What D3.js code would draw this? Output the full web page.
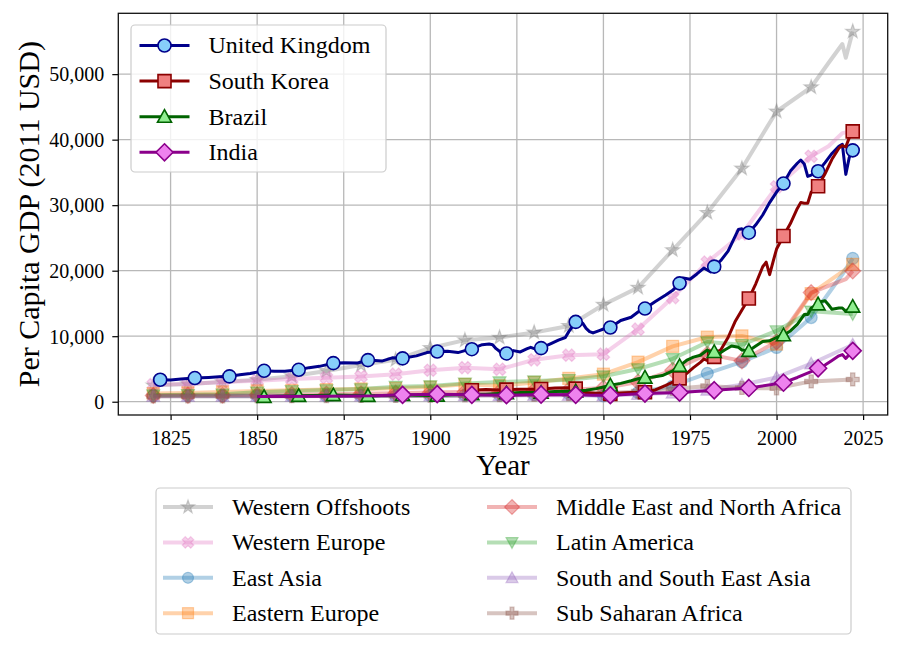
<!DOCTYPE html>
<html>
<head>
<meta charset="utf-8">
<script src="https://cdn.jsdelivr.net/npm/d3@7"></script>
<style>
  body { margin: 0; background: #fff; }
  text { font-family: "Liberation Serif", "Times New Roman", serif; fill: #000; }
</style>
</head>
<body>
<div id="chart"></div>
<script>
// ---- data (year, per capita GDP in 2011 USD) ----
const ukGdp = [[1820,3250],[1822,3350],[1825,3300],[1828,3450],[1832,3610],[1836,3700],[1839,3800],[1842,3870],[1845,4100],[1848,4300],[1852,4720],[1855,4650],[1858,4650],[1862,4870],[1865,5200],[1868,5400],[1872,5890],[1875,5950],[1879,5900],[1882,6350],[1886,6200],[1889,6700],[1892,6620],[1896,7000],[1899,7500],[1902,7670],[1905,7700],[1908,7500],[1910,7800],[1912,8020],[1913,8300],[1915,8700],[1917,8800],[1918,8700],[1919,8100],[1920,7700],[1921,7100],[1922,7370],[1924,7800],[1926,7600],[1928,8100],[1929,8300],[1931,7900],[1932,8180],[1935,8900],[1937,9400],[1939,9800],[1940,10700],[1942,12180],[1943,12400],[1944,12000],[1945,11200],[1946,10700],[1947,10500],[1949,10900],[1950,11100],[1952,11330],[1955,12400],[1958,12900],[1960,13700],[1962,14220],[1965,15300],[1968,16300],[1970,17000],[1972,18070],[1973,18900],[1975,18700],[1977,19500],[1979,20400],[1980,20100],[1981,19800],[1982,20620],[1984,21600],[1986,23000],[1988,25200],[1989,26300],[1990,26400],[1991,25900],[1992,25800],[1994,27000],[1996,28500],[1998,30400],[2000,32000],[2002,33300],[2004,35200],[2006,36400],[2007,36900],[2008,36300],[2009,34400],[2010,34600],[2012,35180],[2014,36500],[2016,37900],[2018,39000],[2019,39300],[2020,34700],[2021,37300],[2022,38370]];
const koreaGdp = [[1911,1600],[1912,1750],[1916,1850],[1920,1800],[1922,1850],[1926,1900],[1930,1900],[1932,1950],[1936,2100],[1940,2150],[1942,2000],[1945,1400],[1950,1200],[1952,1200],[1955,1350],[1958,1400],[1962,1450],[1965,1800],[1968,2500],[1970,3000],[1972,3560],[1974,4300],[1976,5200],[1978,6000],[1979,6500],[1980,6300],[1982,6850],[1984,8000],[1986,9800],[1988,12200],[1990,14000],[1992,15750],[1994,18000],[1996,20600],[1997,21300],[1998,19400],[1999,21400],[2000,23300],[2002,25300],[2004,27200],[2006,29500],[2007,30400],[2008,30300],[2009,30300],[2010,32000],[2012,32900],[2014,34800],[2016,37000],[2018,38700],[2019,39100],[2020,38900],[2021,40300],[2022,41270]];
const brazilGdp = [[1850,760],[1852,760],[1856,820],[1860,880],[1862,910],[1866,950],[1870,1000],[1872,1020],[1876,1000],[1880,950],[1882,910],[1886,950],[1890,1000],[1892,1050],[1896,1000],[1900,950],[1902,950],[1906,1050],[1910,1100],[1912,1150],[1916,1150],[1920,1250],[1922,1300],[1926,1400],[1930,1400],[1932,1400],[1936,1550],[1940,1600],[1942,1600],[1945,1750],[1948,2000],[1950,2250],[1952,2500],[1955,2800],[1958,3200],[1960,3500],[1962,3700],[1964,3750],[1967,4000],[1970,4700],[1972,5480],[1974,6300],[1976,6800],[1978,7100],[1980,7900],[1981,7500],[1982,7610],[1983,7200],[1985,7900],[1987,8500],[1989,8300],[1990,7900],[1992,7770],[1994,8500],[1996,9200],[1998,9300],[2000,9800],[2002,10160],[2004,10800],[2006,11800],[2008,13300],[2009,13300],[2010,14300],[2012,14880],[2013,15300],[2014,15400],[2015,14800],[2016,14100],[2018,14300],[2019,14300],[2020,13800],[2022,14530]];
const indiaGdp = [[1850,800],[1870,820],[1884,900],[1892,1050],[1902,1150],[1912,1050],[1922,1000],[1932,1100],[1942,1050],[1947,1000],[1952,1000],[1962,1250],[1972,1400],[1982,1750],[1992,2100],[2002,2900],[2006,3700],[2010,4600],[2012,5100],[2014,5600],[2016,6300],[2018,7000],[2019,7200],[2020,6600],[2021,7200],[2022,7770]];

const westernOffshoots = [[1820,2500],[1830,2700],[1840,3000],[1850,3350],[1860,3900],[1870,4700],[1880,5600],[1890,6400],[1900,8200],[1910,9400],[1920,9800],[1930,10570],[1940,11570],[1950,14800],[1960,17420],[1970,23150],[1980,28840],[1990,35600],[2000,44300],[2010,48000],[2015,51700],[2019,54600],[2020,52500],[2022,56500]];
const westernEurope = [[1820,2600],[1830,2700],[1840,3000],[1850,3200],[1860,3450],[1870,3650],[1880,3850],[1890,4200],[1900,4800],[1910,5200],[1920,4950],[1930,6400],[1940,7100],[1950,7250],[1960,11070],[1970,15900],[1980,21300],[1990,25600],[2000,32800],[2010,37460],[2015,39000],[2019,41000],[2022,41300]];
const eastAsia = [[1820,900],[1830,900],[1840,880],[1850,880],[1860,870],[1870,870],[1880,880],[1890,900],[1900,950],[1910,1000],[1920,1050],[1930,1100],[1940,1250],[1950,900],[1960,1400],[1970,2400],[1980,4330],[1990,6090],[2000,8280],[2010,12850],[2019,19450],[2022,21880]];
const easternEurope = [[1820,1250],[1830,1350],[1840,1500],[1850,1650],[1860,1750],[1870,1850],[1880,1950],[1890,2050],[1900,2250],[1910,2650],[1920,2450],[1930,2950],[1940,3550],[1950,4200],[1960,6050],[1970,8440],[1980,9880],[1990,10050],[2000,8790],[2010,16500],[2022,20970]];
const middleEast = [[1820,950],[1830,980],[1840,1000],[1850,1050],[1860,1100],[1870,1150],[1880,1200],[1890,1300],[1900,1400],[1910,1500],[1920,1500],[1930,1700],[1940,1800],[1950,2100],[1960,3000],[1970,4800],[1980,7260],[1990,6240],[2000,9140],[2010,16660],[2020,18700],[2022,19950]];
const latinAmerica = [[1820,1000],[1830,1050],[1840,1150],[1850,1450],[1860,1650],[1870,1800],[1880,1950],[1890,2300],[1900,2400],[1910,2800],[1920,3000],[1930,3150],[1940,3350],[1950,3900],[1960,5000],[1970,6550],[1980,9100],[1990,8700],[2000,10800],[2010,13800],[2022,13400]];
const southAsia = [[1820,850],[1830,850],[1840,850],[1850,850],[1860,860],[1870,870],[1880,880],[1890,890],[1900,900],[1910,950],[1920,950],[1930,1000],[1940,1000],[1950,900],[1960,1150],[1970,1350],[1980,1800],[1990,2600],[2000,3700],[2010,5800],[2022,8700]];
const subSaharan = [[1820,820],[1830,820],[1840,830],[1850,840],[1860,850],[1870,860],[1880,870],[1890,880],[1900,900],[1910,950],[1920,1000],[1930,1050],[1940,1150],[1950,1300],[1960,1550],[1970,1950],[1980,2400],[1990,2100],[2000,2050],[2010,3100],[2022,3400]];

const countryNames = ["United Kingdom", "South Korea", "Brazil", "India"];
const regionNames = ["Western Offshoots", "Western Europe", "East Asia", "Eastern Europe",
  "Middle East and North Africa", "Latin America", "South and South East Asia", "Sub Saharan Africa"];
const xTicks = [1825, 1850, 1875, 1900, 1925, 1950, 1975, 2000, 2025];
const yTicks = [0, 10000, 20000, 30000, 40000, 50000];

// ---- styles ----
const countries = [
  { name: countryNames[0], data: ukGdp,    line: "#00008b", face: "#87cefa", shape: "circle",   size: 13 },
  { name: countryNames[1], data: koreaGdp, line: "#8b0000", face: "#f08080", shape: "square",   size: 13 },
  { name: countryNames[2], data: brazilGdp, line: "#006400", face: "#90ee90", shape: "triUp",   size: 14 },
  { name: countryNames[3], data: indiaGdp, line: "#8b008b", face: "#ee82ee", shape: "diamond",  size: 17 }
];
const regions = [
  { name: regionNames[0], data: westernOffshoots, color: "#7f7f7f", shape: "star",    size: 15 },
  { name: regionNames[1], data: westernEurope,    color: "#e377c2", shape: "xfilled", size: 13 },
  { name: regionNames[2], data: eastAsia,         color: "#1f77b4", shape: "circle",  size: 12 },
  { name: regionNames[3], data: easternEurope,    color: "#ff7f0e", shape: "square",  size: 12 },
  { name: regionNames[4], data: middleEast,       color: "#d62728", shape: "diamond", size: 16 },
  { name: regionNames[5], data: latinAmerica,     color: "#2ca02c", shape: "triDown", size: 13 },
  { name: regionNames[6], data: southAsia,        color: "#9467bd", shape: "triUp",   size: 13 },
  { name: regionNames[7], data: subSaharan,       color: "#8c564b", shape: "plus",    size: 13 }
];
const regionAlpha = 0.35;

const width = 902, height = 649;
const plot = { left: 118.3, right: 887.7, top: 13.3, bottom: 415 };

const svg = d3.select("#chart").append("svg")
  .attr("width", width)
  .attr("height", height);

// scales with matplotlib-like 5% margins
const allPts = countries.concat(regions).flatMap(s => s.data);
const xExt = d3.extent(allPts, d => d[0]);
const yExt = d3.extent(allPts, d => d[1]);
const xPad = (xExt[1] - xExt[0]) * 0.05, yPad = (yExt[1] - yExt[0]) * 0.05;

const x = d3.scaleLinear()
  .domain([xExt[0] - xPad, xExt[1] + xPad])
  .range([plot.left, plot.right]);
const y = d3.scaleLinear()
  .domain([yExt[0] - yPad, yExt[1] + yPad])
  .range([plot.bottom, plot.top]);

// marker shapes
function markerPath(shape, size) {
  const r = size / 2;
  const poly = pts => "M" + pts.map(p => p[0].toFixed(2) + "," + p[1].toFixed(2)).join("L") + "Z";
  const plusPts = (w, rot) => {
    const p = [[-w,-r],[w,-r],[w,-w],[r,-w],[r,w],[w,w],[w,r],[-w,r],[-w,w],[-r,w],[-r,-w],[-w,-w]];
    if (!rot) return p;
    const c = Math.SQRT1_2;
    return p.map(([a, b]) => [(a - b) * c, (a + b) * c]);
  };
  switch (shape) {
    case "circle": return d3.symbol(d3.symbolCircle, Math.PI * r * r)();
    case "square": return d3.symbol(d3.symbolSquare, size * size)();
    case "triUp": return poly([[0, -r], [r, r * 0.8], [-r, r * 0.8]]);
    case "triDown": return poly([[0, r], [r, -r * 0.8], [-r, -r * 0.8]]);
    case "diamond": return poly([[0, -r], [r, 0], [0, r], [-r, 0]]);
    case "star": {
      const pts = d3.range(10).map(i => {
        const a = -Math.PI / 2 + i * Math.PI / 5, rr = i % 2 ? r * 0.4 : r;
        return [rr * Math.cos(a), rr * Math.sin(a)];
      });
      return poly(pts);
    }
    case "xfilled": return poly(plusPts(r * 0.36, true));
    case "plus": return poly(plusPts(r * 0.33, false));
  }
}

// grid
const grid = svg.append("g");
grid.selectAll(".gx").data(xTicks).join("line")
  .attr("x1", d => x(d)).attr("x2", d => x(d))
  .attr("y1", plot.top).attr("y2", plot.bottom)
  .attr("stroke", "#b8b8b8").attr("stroke-width", 1.3);
grid.selectAll(".gy").data(yTicks).join("line")
  .attr("x1", plot.left).attr("x2", plot.right)
  .attr("y1", d => y(d)).attr("y2", d => y(d))
  .attr("stroke", "#b8b8b8").attr("stroke-width", 1.3);

const line = d3.line().x(d => x(d[0])).y(d => y(d[1]));

// regions (faint)
regions.forEach(s => {
  const g = svg.append("g");
  g.append("path").datum(s.data)
    .attr("d", line)
    .attr("fill", "none")
    .attr("stroke", s.color)
    .attr("stroke-opacity", regionAlpha)
    .attr("stroke-width", 4)
    .attr("stroke-linejoin", "round");
  const marked = s.data.filter((d, i) => (d[0] % 10 === 0 && d[0] <= 2010) || i === s.data.length - 1);
  g.selectAll("path.m").data(marked).join("path")
    .attr("class", "m")
    .attr("transform", d => `translate(${x(d[0])},${y(d[1])})`)
    .attr("d", markerPath(s.shape, s.size))
    .attr("fill", s.color).attr("fill-opacity", regionAlpha)
    .attr("stroke", s.color).attr("stroke-opacity", regionAlpha)
    .attr("stroke-width", 1.2);
});

// countries
countries.forEach(s => {
  const g = svg.append("g");
  g.append("path").datum(s.data)
    .attr("d", line)
    .attr("fill", "none")
    .attr("stroke", s.line)
    .attr("stroke-width", 3)
    .attr("stroke-linejoin", "round");
  const marked = s.data.filter(d => d[0] % 10 === 2);
  g.selectAll("path.m").data(marked).join("path")
    .attr("class", "m")
    .attr("transform", d => `translate(${x(d[0])},${y(d[1])})`)
    .attr("d", markerPath(s.shape, s.size))
    .attr("fill", s.face)
    .attr("stroke", s.line)
    .attr("stroke-width", 1.6);
});

// axes
const xAxis = svg.append("g")
  .attr("transform", `translate(0,${plot.bottom})`)
  .call(d3.axisBottom(x).tickValues(xTicks).tickFormat(d3.format("d")).tickSize(5).tickPadding(11));
const yAxis = svg.append("g")
  .attr("transform", `translate(${plot.left},0)`)
  .call(d3.axisLeft(y).tickValues(yTicks).tickFormat(d3.format(",")).tickSize(6).tickPadding(8));
[xAxis, yAxis].forEach(a => {
  a.select(".domain").remove();
  a.selectAll(".tick line").attr("stroke", "#000").attr("stroke-width", 1.2);
  a.selectAll(".tick text")
    .attr("fill", "#000")
    .style("font-family", '"Liberation Serif", serif')
    .style("font-size", "20px");
});
yAxis.selectAll(".tick text").attr("dy", "0.34em");

// spines
svg.append("rect")
  .attr("x", plot.left).attr("y", plot.top)
  .attr("width", plot.right - plot.left).attr("height", plot.bottom - plot.top)
  .attr("fill", "none").attr("stroke", "#111").attr("stroke-width", 1.3);

// axis labels
svg.append("text")
  .attr("x", (plot.left + plot.right) / 2).attr("y", 475)
  .attr("text-anchor", "middle")
  .style("font-size", "29px")
  .text("Year");
svg.append("text")
  .attr("transform", `translate(39,${(plot.top + plot.bottom) / 2}) rotate(-90)`)
  .attr("text-anchor", "middle")
  .style("font-size", "30px")
  .text("Per Capita GDP (2011 USD)");

// legends
function legendRow(g, item, lx, ly, faint) {
  g.append("line")
    .attr("x1", lx - 25).attr("x2", lx + 25).attr("y1", ly).attr("y2", ly)
    .attr("stroke", faint ? item.color : item.line)
    .attr("stroke-opacity", faint ? regionAlpha : 1)
    .attr("stroke-width", faint ? 4 : 3);
  g.append("path")
    .attr("transform", `translate(${lx},${ly})`)
    .attr("d", markerPath(item.shape, faint ? item.size - 1 : item.size))
    .attr("fill", faint ? item.color : item.face)
    .attr("fill-opacity", faint ? regionAlpha : 1)
    .attr("stroke", faint ? item.color : item.line)
    .attr("stroke-opacity", faint ? regionAlpha : 1)
    .attr("stroke-width", faint ? 1.2 : 1.6);
  g.append("text")
    .attr("x", lx + 44).attr("y", ly)
    .attr("dy", "0.33em")
    .style("font-size", "24px")
    .text(item.name);
}

const leg1 = svg.append("g");
leg1.append("rect")
  .attr("x", 131).attr("y", 25).attr("width", 255).attr("height", 147).attr("rx", 4)
  .attr("fill", "#fff").attr("fill-opacity", 0.8)
  .attr("stroke", "#cccccc").attr("stroke-width", 1.2);
countries.forEach((c, i) => legendRow(leg1, c, 164.5, 45.5 + i * 35.6, false));

const leg2 = svg.append("g");
leg2.append("rect")
  .attr("x", 156).attr("y", 488).attr("width", 695).attr("height", 146).attr("rx", 4)
  .attr("fill", "#fff")
  .attr("stroke", "#cccccc").attr("stroke-width", 1.2);
regions.forEach((r, i) => {
  const col = Math.floor(i / 4), row = i % 4;
  legendRow(leg2, r, col === 0 ? 188 : 512, 507 + row * 35.4, true);
});
</script>
</body>
</html>
